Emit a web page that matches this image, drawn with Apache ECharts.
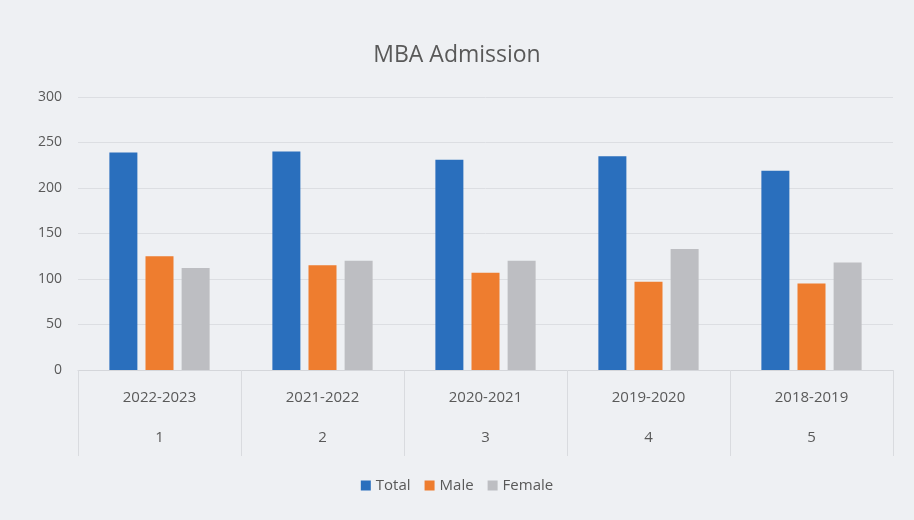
<!DOCTYPE html>
<html>
<head>
<meta charset="utf-8">
<script src="https://cdn.jsdelivr.net/npm/echarts@6/dist/echarts.min.js"></script>
<style>
  html, body { margin: 0; padding: 0; background: #eef0f3; }
  #chart { width: 914px; height: 520px; }
</style>
</head>
<body>
<div id="chart"></div>
<script>
// data
var years = ['2022-2023', '2021-2022', '2020-2021', '2019-2020', '2018-2019'];
var rowNums = ['1', '2', '3', '4', '5'];
var total = [239, 240, 231, 235, 219];
var male = [125, 115, 107, 97, 95];
var female = [112, 120, 120, 133, 118];
var yTicks = [0, 50, 100, 150, 200, 250, 300];

var categories = [];
for (var i = 0; i < years.length; i++) {
  categories.push(years[i] + '\n' + rowNums[i]);
}

var chart = echarts.init(document.getElementById('chart'));

function bar(name, data, color) {
  return {
    name: name,
    type: 'bar',
    data: data,
    barWidth: 28,
    barGap: '29%',
    itemStyle: { color: color }
  };
}

var option = {
  backgroundColor: '#eef0f3',
  textStyle: { fontFamily: 'Open Sans, Noto Sans, sans-serif' },
  title: {
    text: 'MBA Admission',
    left: 'center',
    top: 39,
    textStyle: { fontSize: 23, fontWeight: 'normal', color: '#595959' }
  },
  legend: {
    data: ['Total', 'Male', 'Female'],
    bottom: 22,
    left: 'center',
    itemWidth: 10,
    itemHeight: 10,
    itemGap: 14,
    icon: 'rect',
    textStyle: { fontSize: 15, color: '#595959' }
  },
  grid: { left: 78, right: 21, top: 97, bottom: 150 },
  xAxis: {
    type: 'category',
    data: categories,
    axisLine: { lineStyle: { color: '#d4d6da' } },
    axisTick: { show: true, length: 86, lineStyle: { color: '#d9dbdf' } },
    axisLabel: {
      interval: 0,
      margin: 8,
      fontSize: 15,
      color: '#595959',
      lineHeight: 40
    }
  },
  yAxis: {
    type: 'value',
    min: yTicks[0],
    max: yTicks[yTicks.length - 1],
    interval: 50,
    axisLine: { show: false },
    axisTick: { show: false },
    axisLabel: { fontSize: 14, color: '#595959', margin: 16 },
    splitLine: { lineStyle: { color: '#dcdee2' } }
  },
  series: [
    bar('Total', total, '#2a6fbd'),
    bar('Male', male, '#ee7d2f'),
    bar('Female', female, '#bdbec2')
  ]
};

chart.setOption(option);
</script>
</body>
</html>
